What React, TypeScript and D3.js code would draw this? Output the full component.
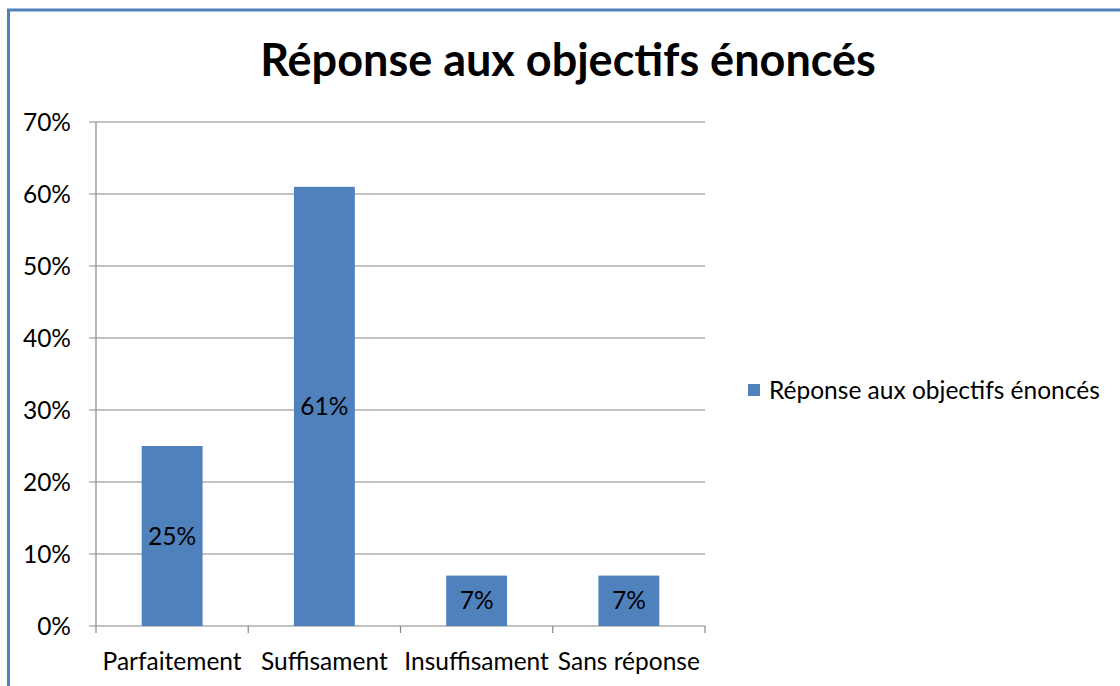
import React from "react";
import * as d3 from "d3";

const title = "Réponse aux objectifs énoncés";
const seriesName = "Réponse aux objectifs énoncés";
const categories = ["Parfaitement", "Suffisament", "Insuffisament", "Sans réponse"];
const values = [0.25, 0.61, 0.07, 0.07];
const yTicks = [0, 0.1, 0.2, 0.3, 0.4, 0.5, 0.6, 0.7];

const W = 1120;
const H = 686;
const FONT = "Lato, 'Open Sans', sans-serif";
const BLUE = "#4F81BD";
const GRID = "#868686";
const FS = 24.5;

export default function App() {
  const plot = { left: 96, right: 705, top: 122, bottom: 626 };
  const x = d3.scaleBand<string>().domain(categories).range([plot.left, plot.right]).paddingInner(0.6).paddingOuter(0.3);
  const y = d3.scaleLinear().domain([0, 0.7]).range([plot.bottom, plot.top]);
  const fmt = d3.format(".0%");
  const step = x.step();
  const boundaries = d3.range(categories.length + 1).map((i) => plot.left + (i * (plot.right - plot.left)) / categories.length);
  return (
    <svg width={W} height={H} style={{ position: "absolute", left: 0, top: 0, background: "#fff" }} fontFamily={FONT}>
      <rect x={0} y={0} width={W} height={H} fill="#fff" />
      {/* border (right/bottom outside view) */}
      <rect x={8.5} y={10} width={W + 20} height={H + 20} fill="none" stroke={BLUE} strokeWidth={3} />
      <text x={568} y={76} textAnchor="middle" fontSize={45} fontWeight="bold" fill="#000">{title}</text>
      {/* gridlines */}
      {yTicks.map((t) => (
        <g key={t}>
          <line x1={plot.left - 7} x2={plot.right} y1={y(t)} y2={y(t)} stroke={GRID} strokeWidth={1.2} />
          <text x={71} y={y(t) + 8.5} textAnchor="end" fontSize={FS} fill="#000">{fmt(t)}</text>
        </g>
      ))}
      {/* axes */}
      <line x1={plot.left} x2={plot.left} y1={plot.top} y2={plot.bottom} stroke={GRID} strokeWidth={1.2} />
      {boundaries.map((b, i) => (
        <line key={i} x1={b} x2={b} y1={plot.bottom} y2={plot.bottom + 7} stroke={GRID} strokeWidth={1.2} />
      ))}
      {/* bars */}
      {categories.map((c, i) => (
        <g key={c}>
          <rect x={x(c)} y={y(values[i])} width={x.bandwidth()} height={plot.bottom - y(values[i])} fill={BLUE} />
          <text x={(x(c) as number) + x.bandwidth() / 2} y={(y(values[i]) + plot.bottom) / 2 + 8.5} textAnchor="middle" fontSize={FS} fill="#000">
            {fmt(values[i])}
          </text>
          <text x={plot.left + step * (i + 0.5)} y={670} textAnchor="middle" fontSize={FS} fill="#000">{c}</text>
        </g>
      ))}
      {/* legend */}
      <rect x={748} y={384} width={12} height={12} fill={BLUE} />
      <text x={769} y={399} fontSize={FS} fill="#000">{seriesName}</text>
    </svg>
  );
}
